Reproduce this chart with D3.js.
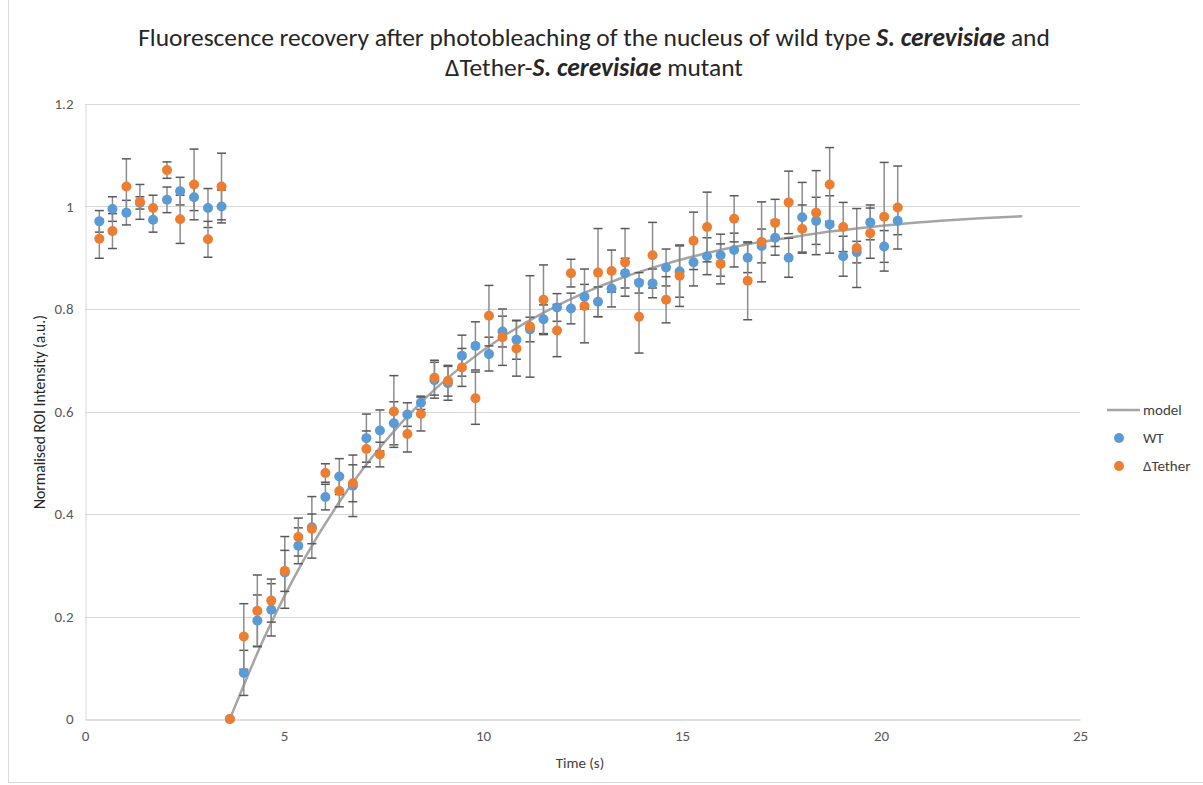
<!DOCTYPE html>
<html>
<head>
<meta charset="utf-8">
<script src="https://cdn.jsdelivr.net/npm/d3@7"></script>
<style>
  body { margin: 0; background: #fff; }
  text { font-family: Carlito, "Liberation Sans Narrow", "Open Sans", sans-serif; }
</style>
</head>
<body>
<div id="chart"></div>
<script>
var times = [0.36, 0.69, 1.04, 1.38, 1.71, 2.06, 2.39, 2.74, 3.09, 3.43,
  3.64,
  3.99, 4.33, 4.68, 5.02, 5.36, 5.70, 6.04, 6.39, 6.73, 7.07,
  7.41, 7.76, 8.10, 8.44, 8.78, 9.12, 9.47, 9.81, 10.15, 10.49,
  10.84, 11.18, 11.52, 11.86, 12.21, 12.55, 12.89, 13.23, 13.57, 13.92,
  14.26, 14.60, 14.94, 15.29, 15.63, 15.97, 16.31, 16.65, 17.00, 17.34,
  17.68, 18.02, 18.37, 18.71, 19.05, 19.39, 19.73, 20.08, 20.42];

var wt = [0.971, 0.995, 0.988, 1.007, 0.974, 1.013, 1.030, 1.018, 0.997, 1.000,
  0,
  0.090, 0.192, 0.213, 0.286, 0.338, 0.374, 0.433, 0.473, 0.455, 0.548,
  0.563, 0.577, 0.594, 0.617, 0.661, 0.655, 0.709, 0.728, 0.712, 0.756,
  0.740, 0.760, 0.780, 0.803, 0.801, 0.824, 0.814, 0.840, 0.870, 0.851,
  0.850, 0.881, 0.873, 0.891, 0.903, 0.905, 0.915, 0.900, 0.923, 0.939,
  0.900, 0.979, 0.972, 0.965, 0.903, 0.911, 0.969, 0.922, 0.972];

var wtErr = [0.021, 0.024, 0.024, 0.012, 0.024, 0.025, 0.027, 0.026, 0.038, 0.032,
  0,
  0.044, 0.050, 0.051, 0.070, 0.035, 0.060, 0.025, 0.035, 0.060, 0.047,
  0.040, 0.042, 0.023, 0.013, 0.035, 0.033, 0.040, 0.047, 0.033, 0.030,
  0.038, 0.024, 0.028, 0.027, 0.030, 0.024, 0.029, 0.036, 0.029, 0.020,
  0.028, 0.036, 0.050, 0.046, 0.036, 0.041, 0.033, 0.029, 0.033, 0.034,
  0.038, 0.068, 0.046, 0.056, 0.039, 0.021, 0.034, 0.031, 0.027];

var tether = [0.937, 0.952, 1.039, 1.009, 0.997, 1.071, 0.975, 1.043, 0.936, 1.039,
  0,
  0.161, 0.211, 0.231, 0.289, 0.355, 0.371, 0.480, 0.445, 0.460, 0.527,
  0.516, 0.600, 0.556, 0.595, 0.666, 0.660, 0.686, 0.626, 0.787, 0.745,
  0.723, 0.766, 0.818, 0.758, 0.870, 0.806, 0.871, 0.874, 0.891, 0.785,
  0.905, 0.818, 0.865, 0.933, 0.960, 0.888, 0.976, 0.855, 0.931, 0.968,
  1.008, 0.956, 0.988, 1.043, 0.960, 0.919, 0.948, 0.980, 0.998];

var tetherErr = [0.038, 0.034, 0.054, 0.034, 0.025, 0.016, 0.047, 0.069, 0.035, 0.065,
  0,
  0.064, 0.070, 0.042, 0.040, 0.037, 0.029, 0.018, 0.031, 0.036, 0.035,
  0.024, 0.070, 0.035, 0.033, 0.034, 0.030, 0.037, 0.051, 0.059, 0.055,
  0.054, 0.099, 0.068, 0.051, 0.027, 0.072, 0.086, 0.041, 0.066, 0.071,
  0.064, 0.045, 0.060, 0.056, 0.068, 0.039, 0.045, 0.076, 0.078, 0.046,
  0.061, 0.047, 0.082, 0.072, 0.048, 0.077, 0.049, 0.106, 0.081];

// model curve
var modelT = [3.64, 4.5, 5.5, 6.5, 7.5, 8.5, 9.5, 10.5, 11.5, 12.5, 13.5,
  14.5, 15.5, 16.5, 17.5, 18.5, 19.5, 20.5, 21.5, 22.5, 23.55];
var modelY = [0, 0.158, 0.311, 0.436, 0.538, 0.622, 0.690, 0.746, 0.792, 0.830, 0.861,
  0.886, 0.907, 0.924, 0.937, 0.949, 0.958, 0.966, 0.972, 0.977, 0.981];

var xTicks = [0, 5, 10, 15, 20, 25];
var yTicks = [0, 0.2, 0.4, 0.6, 0.8, 1, 1.2];

var W = 1203, H = 785;
var mLeft = 85, mRight = 1080, mTop = 104, mBottom = 719;

var svg = d3.select("#chart").append("svg").attr("width", W).attr("height", H);

// outer chart border
svg.append("rect")
  .attr("x", 8.5).attr("y", -2).attr("width", W).attr("height", 784.5)
  .attr("fill", "none").attr("stroke", "#d9d9d9");

var x = d3.scaleLinear().domain([0, 25]).range([mLeft, mRight]);
var y = d3.scaleLinear().domain([0, 1.2]).range([mBottom, mTop]);

// gridlines
svg.append("g")
  .selectAll("line")
  .data(yTicks.filter(function (d) { return d > 0; }))
  .enter()
  .append("line")
  .attr("x1", mLeft).attr("x2", mRight)
  .attr("y1", function (d) { return Math.round(y(d)) + 0.5; })
  .attr("y2", function (d) { return Math.round(y(d)) + 0.5; })
  .attr("stroke", "#d9d9d9").attr("stroke-width", 1);

// y axis
var yAxis = svg.append("g")
  .attr("transform", "translate(" + (mLeft + 0.5) + ",0)")
  .call(d3.axisLeft(y).tickValues(yTicks).tickSize(0).tickPadding(12)
    .tickFormat(function (d) { return d3.format("~g")(d); }));
yAxis.select(".domain").attr("stroke", "#d9d9d9");
yAxis.selectAll("text").attr("fill", "#595959").style("font-size", "15px");

// x axis
var xAxis = svg.append("g")
  .attr("transform", "translate(0," + (mBottom + 0.5) + ")")
  .call(d3.axisBottom(x).tickValues(xTicks).tickSize(0).tickPadding(11));
xAxis.select(".domain").attr("stroke", "#bfbfbf");
xAxis.selectAll("text").attr("fill", "#595959").style("font-size", "15px");

// axis titles
svg.append("text")
  .attr("x", 580).attr("y", 768)
  .attr("text-anchor", "middle")
  .attr("fill", "#404040").style("font-size", "15px")
  .text("Time (s)");

var yTitle = svg.append("text")
  .attr("transform", "translate(45,412) rotate(-90)")
  .attr("text-anchor", "middle")
  .attr("fill", "#262626").style("font-size", "15px")
  .text("Normalised ROI Intensity (a.u.)");
var wy = yTitle.node().getComputedTextLength();
yTitle.style("font-size", (15 * 194 / wy).toFixed(2) + "px");

// title
var title = svg.append("g").attr("fill", "#262626").style("font-size", "22px");
var t1 = title.append("text").attr("x", 594).attr("y", 46).attr("text-anchor", "middle");
t1.append("tspan").text("Fluorescence recovery after photobleaching of the nucleus of wild type ");
t1.append("tspan").attr("font-weight", "bold").attr("font-style", "italic").text("S. cerevisiae");
t1.append("tspan").text(" and");
var t2 = title.append("text").attr("x", 594).attr("y", 76).attr("text-anchor", "middle");
t2.append("tspan").text("\u0394Tether-");
t2.append("tspan").attr("font-weight", "bold").attr("font-style", "italic").text("S. cerevisiae");
t2.append("tspan").text(" mutant");

// fit title width to the reference (line 1 is about 912px wide)
var w1 = t1.node().getComputedTextLength();
title.style("font-size", (22 * 912 / w1).toFixed(2) + "px");

// model line
var modelData = modelT.map(function (t, i) { return [t, modelY[i]]; });
svg.append("path")
  .datum(modelData)
  .attr("fill", "none")
  .attr("stroke", "#a5a5a5")
  .attr("stroke-width", 2.5)
  .attr("d", d3.line()
    .x(function (d) { return x(d[0]); })
    .y(function (d) { return y(d[1]); })
    .curve(d3.curveMonotoneX));

function toPoints(vals, errs) {
  return times.map(function (t, i) { return { t: t, v: vals[i], e: errs[i] }; });
}

function drawBars(pts) {
  var bars = svg.append("g").selectAll("g")
    .data(pts.filter(function (d) { return d.e > 0; }))
    .enter().append("g");
  bars.append("line")
    .attr("x1", function (d) { return x(d.t); })
    .attr("x2", function (d) { return x(d.t); })
    .attr("y1", function (d) { return y(d.v + d.e); })
    .attr("y2", function (d) { return y(d.v - d.e); })
    .attr("stroke", "#8c8c8c").attr("stroke-width", 1.5);
  [1, -1].forEach(function (s) {
    bars.append("line")
      .attr("x1", function (d) { return x(d.t) - 4.5; })
      .attr("x2", function (d) { return x(d.t) + 4.5; })
      .attr("y1", function (d) { return y(d.v + s * d.e); })
      .attr("y2", function (d) { return y(d.v + s * d.e); })
      .attr("stroke", "#595959").attr("stroke-width", 1.5);
  });
}

function drawDots(pts, color) {
  svg.append("g").selectAll("circle")
    .data(pts)
    .enter().append("circle")
    .attr("cx", function (d) { return x(d.t); })
    .attr("cy", function (d) { return y(d.v); })
    .attr("r", 5)
    .attr("fill", color);
}

var wtPts = toPoints(wt, wtErr);
var tetherPts = toPoints(tether, tetherErr);
drawBars(wtPts);
drawBars(tetherPts);
drawDots(wtPts, "#5b9bd5");
drawDots(tetherPts, "#ed7d31");

// legend
var lg = svg.append("g").style("font-size", "15px").attr("fill", "#404040");
lg.append("line").attr("x1", 1107).attr("x2", 1140).attr("y1", 410).attr("y2", 410)
  .attr("stroke", "#a5a5a5").attr("stroke-width", 2.5);
lg.append("text").attr("x", 1143).attr("y", 415).text("model");
lg.append("circle").attr("cx", 1119).attr("cy", 438).attr("r", 5).attr("fill", "#5b9bd5");
lg.append("text").attr("x", 1143).attr("y", 443).text("WT");
lg.append("circle").attr("cx", 1119).attr("cy", 466).attr("r", 5).attr("fill", "#ed7d31");
lg.append("text").attr("x", 1143).attr("y", 471).text("\u0394Tether");
</script>
</body>
</html>
